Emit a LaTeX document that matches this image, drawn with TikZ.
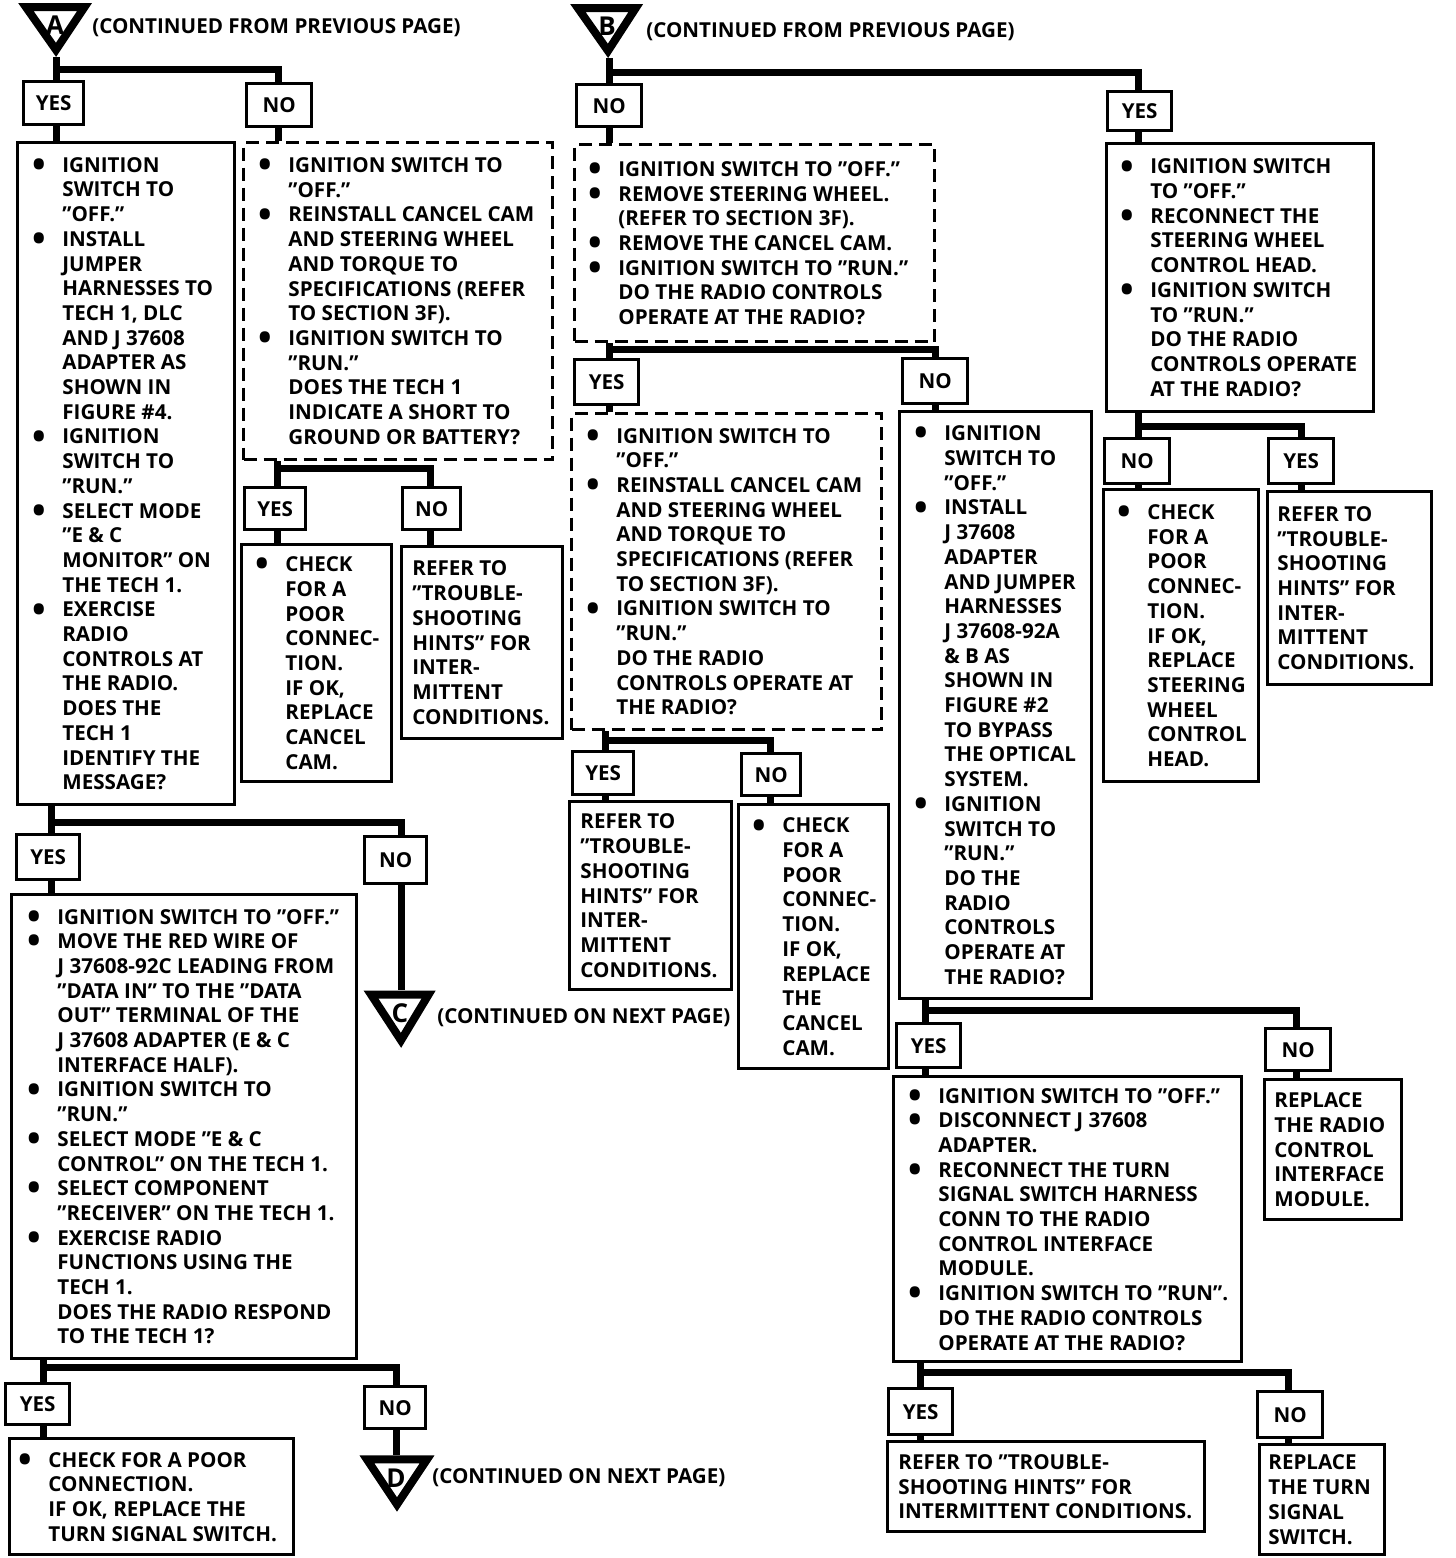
\documentclass[tikz,border=0pt]{standalone}
\usepackage{fontspec}
\setmainfont{Open Sans}
\usepackage{graphicx}
\usetikzlibrary{calc}
\newcommand\ff{\fontsize{10.3}{12.35}\selectfont\bfseries}
\newcommand\bi{\makebox[15pt][l]{\smash{\raisebox{-0.25em}{\scalebox{1.75}{•}}}}}
\newcommand\ci{\hspace*{15pt}}
\newcommand\bxx[6]{\pgfmathsetmacro\bw{(#5-#3)*0.5}\pgfmathsetmacro\bh{(#6-#4)*0.5}\node[#1,anchor=north west,minimum width=\bw pt,minimum height=\bh pt] (#2) at (#3,#4) {};}
\newcommand\tx[3]{\node[txt,anchor=west] (#1t) at ($(#1.west)+(#2,0)$) {#3};}
\newcommand\lab[6]{\pgfmathsetmacro\bw{(#4-#2)*0.5}\pgfmathsetmacro\bh{(#5-#3)*0.5}\node[labbox,anchor=north west,minimum width=\bw pt,minimum height=\bh pt] (#1) at (#2,#3) {#6};}
\newcommand\tri[7]{%
 \coordinate (#1a) at (#2,#4); \coordinate (#1b) at (#3,#4); \coordinate (#1c) at (#5,#6);
 \pgfmathsetmacro\iy{#4+0.37*(#6-#4)}
 \coordinate (#1i) at (#5,\iy);
 \draw[line width=4pt,line join=miter] ($(#1i)!0.79!(#1a)$) -- ($(#1i)!0.79!(#1b)$) -- ($(#1i)!0.79!(#1c)$) -- cycle;
 \node[font=\fontsize{13}{13}\selectfont\bfseries,inner sep=0pt] (#1L) at ($(#1i)+(-1,2)$) {#7};}
\begin{document}
\begin{tikzpicture}[x=0.5pt,y=-0.5pt,
  box/.style={draw,line width=1.7pt,inner sep=0pt},
  dbox/.style={draw,line width=1.6pt,dash pattern=on 6.5pt off 3.5pt,inner sep=0pt},
  labbox/.style={draw,line width=1.7pt,inner sep=0pt,font=\ff},
  txt/.style={align=left,inner sep=0pt,font=\ff},
  hdr/.style={inner sep=0pt,font=\ff},
  conn/.style={line width=3.5pt,line join=miter}]
\fill[white] (0,0) rectangle (1456,1558);
\useasboundingbox (0,0) rectangle (1456,1558);

% ---------- triangles and headers
\tri{tA}{18}{92}{3}{56}{57}{A}
\node[hdr,anchor=west] (hA) at (92,28) {(CONTINUED FROM PREVIOUS PAGE)};
\tri{tB}{570}{643}{4}{608}{58}{B}
\node[hdr,anchor=west] (hB) at (646,32) {(CONTINUED FROM PREVIOUS PAGE)};
\tri{tC}{363}{436}{990}{401}{1048}{C}
\node[hdr,anchor=west] (hC) at (437,1018) {(CONTINUED ON NEXT PAGE)};
\tri{tD}{359}{435}{1455}{397}{1512}{D}
\node[hdr,anchor=west] (hD) at (432,1478) {(CONTINUED ON NEXT PAGE)};

% ---------- boxes
\bxx{box}{b1}{16}{141}{233}{803}
\bxx{dbox}{d1}{242}{141}{551}{458}
\bxx{box}{c1}{240}{543}{390}{780}
\bxx{box}{r1}{400}{545}{561}{737}
\bxx{box}{b2}{10}{893}{355}{1357}
\bxx{box}{c4}{8}{1437}{292}{1553}
\bxx{dbox}{d2}{573}{143}{933}{340}
\bxx{dbox}{d3}{570}{412}{880}{728}
\bxx{box}{r6}{568}{800}{730}{988}
\bxx{box}{c6}{737}{803}{887}{1067}
\bxx{box}{b3}{898}{410}{1090}{997}
\bxx{box}{b4}{892}{1075}{1240}{1360}
\bxx{box}{p7}{1263}{1078}{1400}{1218}
\bxx{box}{r8}{886}{1440}{1203}{1530}
\bxx{box}{p8}{1258}{1443}{1383}{1553}
\bxx{box}{b5}{1105}{142}{1372}{410}
\bxx{box}{c9}{1102}{488}{1257}{780}
\bxx{box}{r9}{1266}{490}{1430}{683}

% ---------- texts
\tx{b1}{16}{\bi IGNITION\\\ci SWITCH TO\\\ci ”OFF.”\\\bi INSTALL\\\ci JUMPER\\\ci HARNESSES TO\\\ci TECH 1, DLC\\\ci AND J 37608\\\ci ADAPTER AS\\\ci SHOWN IN\\\ci FIGURE \#4.\\\bi IGNITION\\\ci SWITCH TO\\\ci ”RUN.”\\\bi SELECT MODE\\\ci ”E \& C\\\ci MONITOR” ON\\\ci THE TECH 1.\\\bi EXERCISE\\\ci RADIO\\\ci CONTROLS AT\\\ci THE RADIO.\\\ci DOES THE\\\ci TECH 1\\\ci IDENTIFY THE\\\ci MESSAGE?}
\tx{d1}{16}{\bi IGNITION SWITCH TO\\\ci ”OFF.”\\\bi REINSTALL CANCEL CAM\\\ci AND STEERING WHEEL\\\ci AND TORQUE TO\\\ci SPECIFICATIONS (REFER\\\ci TO SECTION 3F).\\\bi IGNITION SWITCH TO\\\ci ”RUN.”\\\ci DOES THE TECH 1\\\ci INDICATE A SHORT TO\\\ci GROUND OR BATTERY?}
\tx{c1}{15}{\bi CHECK\\\ci FOR A\\\ci POOR\\\ci CONNEC-\\\ci TION.\\\ci IF OK,\\\ci REPLACE\\\ci CANCEL\\\ci CAM.}
\tx{r1}{12}{REFER TO\\”TROUBLE-\\SHOOTING\\HINTS” FOR\\INTER-\\MITTENT\\CONDITIONS.}
\tx{b2}{17}{\bi IGNITION SWITCH TO ”OFF.”\\\bi MOVE THE RED WIRE OF\\\ci J 37608-92C LEADING FROM\\\ci ”DATA IN” TO THE ”DATA\\\ci OUT” TERMINAL OF THE\\\ci J 37608 ADAPTER (E \& C\\\ci INTERFACE HALF).\\\bi IGNITION SWITCH TO\\\ci ”RUN.”\\\bi SELECT MODE ”E \& C\\\ci CONTROL” ON THE TECH 1.\\\bi SELECT COMPONENT\\\ci ”RECEIVER” ON THE TECH 1.\\\bi EXERCISE RADIO\\\ci FUNCTIONS USING THE\\\ci TECH 1.\\\ci DOES THE RADIO RESPOND\\\ci TO THE TECH 1?}
\tx{c4}{10}{\bi CHECK FOR A POOR\\\ci CONNECTION.\\\ci IF OK, REPLACE THE\\\ci TURN SIGNAL SWITCH.}
\tx{d2}{15}{\bi IGNITION SWITCH TO ”OFF.”\\\bi REMOVE STEERING WHEEL.\\\ci (REFER TO SECTION 3F).\\\bi REMOVE THE CANCEL CAM.\\\bi IGNITION SWITCH TO ”RUN.”\\\ci DO THE RADIO CONTROLS\\\ci OPERATE AT THE RADIO?}
\tx{d3}{16}{\bi IGNITION SWITCH TO\\\ci ”OFF.”\\\bi REINSTALL CANCEL CAM\\\ci AND STEERING WHEEL\\\ci AND TORQUE TO\\\ci SPECIFICATIONS (REFER\\\ci TO SECTION 3F).\\\bi IGNITION SWITCH TO\\\ci ”RUN.”\\\ci DO THE RADIO\\\ci CONTROLS OPERATE AT\\\ci THE RADIO?}
\tx{r6}{12}{REFER TO\\”TROUBLE-\\SHOOTING\\HINTS” FOR\\INTER-\\MITTENT\\CONDITIONS.}
\tx{c6}{15}{\bi CHECK\\\ci FOR A\\\ci POOR\\\ci CONNEC-\\\ci TION.\\\ci IF OK,\\\ci REPLACE\\\ci THE\\\ci CANCEL\\\ci CAM.}
\tx{b3}{16}{\bi IGNITION\\\ci SWITCH TO\\\ci ”OFF.”\\\bi INSTALL\\\ci J 37608\\\ci ADAPTER\\\ci AND JUMPER\\\ci HARNESSES\\\ci J 37608-92A\\\ci \& B AS\\\ci SHOWN IN\\\ci FIGURE \#2\\\ci TO BYPASS\\\ci THE OPTICAL\\\ci SYSTEM.\\\bi IGNITION\\\ci SWITCH TO\\\ci ”RUN.”\\\ci DO THE\\\ci RADIO\\\ci CONTROLS\\\ci OPERATE AT\\\ci THE RADIO?}
\tx{b4}{16}{\bi IGNITION SWITCH TO ”OFF.”\\\bi DISCONNECT J 37608\\\ci ADAPTER.\\\bi RECONNECT THE TURN\\\ci SIGNAL SWITCH HARNESS\\\ci CONN TO THE RADIO\\\ci CONTROL INTERFACE\\\ci MODULE.\\\bi IGNITION SWITCH TO ”RUN”.\\\ci DO THE RADIO CONTROLS\\\ci OPERATE AT THE RADIO?}
\tx{p7}{11}{REPLACE\\THE RADIO\\CONTROL\\INTERFACE\\MODULE.}
\tx{r8}{12}{REFER TO ”TROUBLE-\\SHOOTING HINTS” FOR\\INTERMITTENT CONDITIONS.}
\tx{p8}{10}{REPLACE\\THE TURN\\SIGNAL\\SWITCH.}
\tx{b5}{15}{\bi IGNITION SWITCH\\\ci TO ”OFF.”\\\bi RECONNECT THE\\\ci STEERING WHEEL\\\ci CONTROL HEAD.\\\bi IGNITION SWITCH\\\ci TO ”RUN.”\\\ci DO THE RADIO\\\ci CONTROLS OPERATE\\\ci AT THE RADIO?}
\tx{c9}{15}{\bi CHECK\\\ci FOR A\\\ci POOR\\\ci CONNEC-\\\ci TION.\\\ci IF OK,\\\ci REPLACE\\\ci STEERING\\\ci WHEEL\\\ci CONTROL\\\ci HEAD.}
\tx{r9}{11}{REFER TO\\”TROUBLE-\\SHOOTING\\HINTS” FOR\\INTER-\\MITTENT\\CONDITIONS.}

% ---------- YES / NO labels
\lab{yA}{22}{80}{82}{123}{YES}
\lab{nA}{245}{82}{310}{125}{NO}
\lab{y2}{243}{486}{304}{528}{YES}
\lab{n2}{401}{486}{459}{528}{NO}
\lab{y3}{15}{833}{78}{878}{YES}
\lab{n3}{363}{835}{425}{882}{NO}
\lab{y4}{4}{1382}{68}{1423}{YES}
\lab{n4}{363}{1385}{424}{1427}{NO}
\lab{yB}{1106}{90}{1170}{129}{YES}
\lab{nB}{575}{83}{640}{125}{NO}
\lab{y5}{573}{358}{637}{403}{YES}
\lab{n5}{901}{357}{966}{402}{NO}
\lab{y6}{571}{750}{632}{793}{YES}
\lab{n6}{740}{752}{799}{794}{NO}
\lab{y7}{895}{1022}{959}{1066}{YES}
\lab{n7}{1264}{1027}{1329}{1069}{NO}
\lab{y8}{887}{1387}{951}{1433}{YES}
\lab{n8}{1256}{1390}{1321}{1436}{NO}
\lab{n9}{1103}{437}{1168}{482}{NO}
\lab{y9}{1267}{437}{1332}{482}{YES}

% ---------- connectors
% A
\coordinate (jA) at (56,69); \coordinate (kA) at (278,69);
\draw[conn] (jA |- tAc) -- (jA |- yA.north);
\draw[conn] (jA) -- (kA) -- (kA |- nA.north);
\draw[conn] (jA |- yA.south) -- (jA |- b1.north);
\draw[conn] (kA |- nA.south) -- (kA |- d1.north);
% d1
\coordinate (j2) at (277,468); \coordinate (k2) at (430,468);
\draw[conn] (j2 |- d1.south) -- (j2 |- y2.north);
\draw[conn] (j2) -- (k2) -- (k2 |- n2.north);
\draw[conn] (j2 |- y2.south) -- (j2 |- c1.north);
\draw[conn] (k2 |- n2.south) -- (k2 |- r1.north);
% b1
\coordinate (j3) at (51,822); \coordinate (k3) at (401,822);
\draw[conn] (j3 |- b1.south) -- (j3 |- y3.north);
\draw[conn] (j3) -- (k3) -- (k3 |- n3.north);
\draw[conn] (j3 |- y3.south) -- (j3 |- b2.north);
\draw[conn] (k3 |- n3.south) -- (k3 |- tCa);
% b2
\coordinate (j4) at (43,1367); \coordinate (k4) at (396,1367);
\draw[conn] (j4 |- b2.south) -- (j4 |- y4.north);
\draw[conn] (j4) -- (k4) -- (k4 |- n4.north);
\draw[conn] (j4 |- y4.south) -- (j4 |- c4.north);
\draw[conn] (k4 |- n4.south) -- (k4 |- tDa);
% B
\coordinate (jB) at (609,72); \coordinate (kB) at (1138,72);
\draw[conn] (jB |- tBc) -- (jB |- nB.north);
\draw[conn] (jB) -- (kB) -- (kB |- yB.north);
\draw[conn] (jB |- nB.south) -- (jB |- d2.north);
\draw[conn] (kB |- yB.south) -- (kB |- b5.north);
% d2
\coordinate (j5) at (609,349); \coordinate (k5) at (935,349);
\draw[conn] (j5 |- d2.south) -- (j5 |- y5.north);
\draw[conn] (j5) -- (k5) -- (k5 |- n5.north);
\draw[conn] (j5 |- y5.south) -- (j5 |- d3.north);
\draw[conn] (k5 |- n5.south) -- (k5 |- b3.north);
% d3
\coordinate (j6) at (605,740); \coordinate (k6) at (770,740);
\draw[conn] (j6 |- d3.south) -- (j6 |- y6.north);
\draw[conn] (j6) -- (k6) -- (k6 |- n6.north);
\draw[conn] (j6 |- y6.south) -- (j6 |- r6.north);
\draw[conn] (k6 |- n6.south) -- (k6 |- c6.north);
% b3
\coordinate (j7) at (925,1010); \coordinate (k7) at (1296,1010);
\draw[conn] (j7 |- b3.south) -- (j7 |- y7.north);
\draw[conn] (j7) -- (k7) -- (k7 |- n7.north);
\draw[conn] (j7 |- y7.south) -- (j7 |- b4.north);
\draw[conn] (k7 |- n7.south) -- (k7 |- p7.north);
% b4
\coordinate (j8) at (920,1372); \coordinate (k8) at (1288,1372);
\draw[conn] (j8 |- b4.south) -- (j8 |- y8.north);
\draw[conn] (j8) -- (k8) -- (k8 |- n8.north);
\draw[conn] (j8 |- y8.south) -- (j8 |- r8.north);
\draw[conn] (k8 |- n8.south) -- (k8 |- p8.north);
% b5
\coordinate (j9) at (1138,426); \coordinate (k9) at (1301,426);
\draw[conn] (j9 |- b5.south) -- (j9 |- n9.north);
\draw[conn] (j9) -- (k9) -- (k9 |- y9.north);
\draw[conn] (j9 |- n9.south) -- (j9 |- c9.north);
\draw[conn] (k9 |- y9.south) -- (k9 |- r9.north);
\end{tikzpicture}
\end{document}
